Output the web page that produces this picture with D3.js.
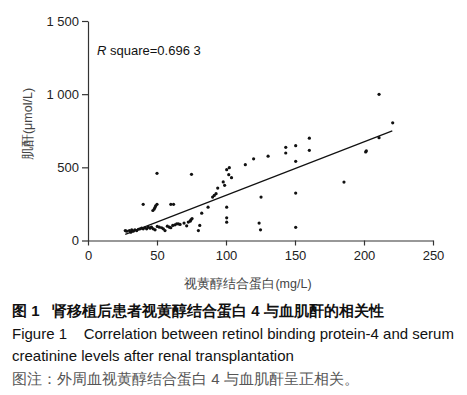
<!DOCTYPE html>
<html>
<head>
<meta charset="utf-8">
<script src="https://cdn.jsdelivr.net/npm/d3@7"></script>
<style>
  body { margin: 0; background: #fff; }
  svg { display: block; font-family: "Liberation Sans", Arial, sans-serif; }
</style>
</head>
<body>
<script>
// retinol binding protein-4 (mg/L) vs serum creatinine (umol/L)
var rbp = [27, 28, 30, 31, 31.7, 32.8, 34, 35.3, 36.5, 37.7, 38.9, 40, 41.3, 42.5, 43.7, 45, 46, 47.3, 48.6,
           50.2, 51.7, 53.4, 54.6, 55.8, 57.5, 59, 60, 61.4, 63, 64.3, 65.5, 66.7, 69.6, 71.5, 72.7, 74, 74.6, 75.4,
           40, 47, 48, 48.5, 49, 50, 50, 60, 62, 75,
           80, 81, 82.4, 87, 90.3, 91.5, 92.8, 94, 98, 99, 100.5, 102.4, 102, 104, 100.5, 100.5, 100.5,
           114, 120, 130.5, 125.4, 124, 125, 143.3, 143.3, 150.5, 150.5, 150.5, 150.5,
           160.4, 160.4, 185.5, 201.2, 201.7, 210.9, 210.9, 220.8];
var scr = [68, 64, 68, 57, 73, 64, 73, 68, 77, 80, 84, 80, 87, 80, 91, 84, 91, 80, 73,
           96, 91, 87, 80, 68, 98, 91, 87, 103, 107, 114, 114, 110, 119, 100, 126, 132, 141, 150,
           247, 205, 215, 225, 236, 247, 459, 247, 247, 452,
           68, 103, 187, 228, 297, 308, 320, 358, 400, 377, 484, 498, 450, 429, 228, 155, 125,
           518, 558, 576, 297, 119, 73, 637, 598, 648, 541, 324, 90,
           699, 616, 399, 605, 612, 999, 703, 804];
// fitted regression line, end points
var fitX = [27, 220.5];
var fitY = [42, 749];
var xTicks = [0, 50, 100, 150, 200, 250];
var yTicks = [0, 500, 1000, 1500];
var rSquare = "0.696 3";

var svg = d3.select("body").append("svg")
  .attr("width", 467)
  .attr("height", 395);

var x = d3.scaleLinear().domain([0, 250]).range([88, 433]);
var y = d3.scaleLinear().domain([0, 1500]).range([240.5, 21]);

var fmt = d3.formatLocale({decimal: ".", thousands: " ", grouping: [3], currency: ["", ""]}).format(",");

var yAxis = svg.append("g")
  .attr("transform", "translate(88,0)")
  .call(d3.axisLeft(y).tickValues(yTicks).tickFormat(fmt).tickSize(6).tickSizeOuter(0).tickPadding(3));

var xAxis = svg.append("g")
  .attr("transform", "translate(0,240.5)")
  .call(d3.axisBottom(x).tickValues(xTicks).tickSize(5).tickSizeOuter(0).tickPadding(5));

svg.selectAll(".domain, .tick line").attr("stroke", "#333").attr("stroke-width", 1.2);
svg.selectAll(".tick text").attr("fill", "#222").style("font-size", "13px")
  .style("font-family", "\"Liberation Sans\", Arial, sans-serif");

// axis titles
svg.append("text")
  .attr("x", 248)
  .attr("y", 288)
  .attr("text-anchor", "middle")
  .attr("fill", "#444")
  .style("font-size", "12.5px")
  .text("视黄醇结合蛋白(mg/L)");

svg.append("text")
  .attr("transform", "translate(32,124) rotate(-90)")
  .attr("text-anchor", "middle")
  .attr("fill", "#444")
  .style("font-size", "12.5px")
  .text("肌酐(μmol/L)");

// R square note
var rs = svg.append("text")
  .attr("x", 97)
  .attr("y", 55)
  .attr("fill", "#111")
  .style("font-size", "13px");
rs.append("tspan").style("font-style", "italic").text("R");
rs.append("tspan").text(" square=" + rSquare);

// points
svg.selectAll(".dot")
  .data(rbp)
  .enter().append("circle")
  .attr("class", "dot")
  .attr("cx", function(d) { return x(d); })
  .attr("cy", function(d, i) { return y(scr[i]); })
  .attr("r", 1.6)
  .attr("fill", "#111");

// regression line
svg.append("line")
  .attr("x1", x(fitX[0])).attr("y1", y(fitY[0]))
  .attr("x2", x(fitX[1])).attr("y2", y(fitY[1]))
  .attr("stroke", "#111")
  .attr("stroke-width", 1.2);

// caption
var cap = [
  {t: "图 1\u00a0\u00a0\u00a0肾移植后患者视黄醇结合蛋白 4 与血肌酐的相关性", y: 316, c: "#111", w: "bold"},
  {t: "Figure 1\u00a0\u00a0\u00a0\u00a0Correlation between retinol binding protein-4 and serum", y: 339, c: "#111", w: "normal"},
  {t: "creatinine levels after renal transplantation", y: 361, c: "#111", w: "normal"},
  {t: "图注：外周血视黄醇结合蛋白 4 与血肌酐呈正相关。", y: 384, c: "#555", w: "normal"}
];
svg.selectAll(".cap")
  .data(cap)
  .enter().append("text")
  .attr("class", "cap")
  .attr("x", 12)
  .attr("y", function(d) { return d.y; })
  .attr("fill", function(d) { return d.c; })
  .style("font-weight", function(d) { return d.w; })
  .style("font-size", "15px")
  .text(function(d) { return d.t; });
</script>
</body>
</html>
